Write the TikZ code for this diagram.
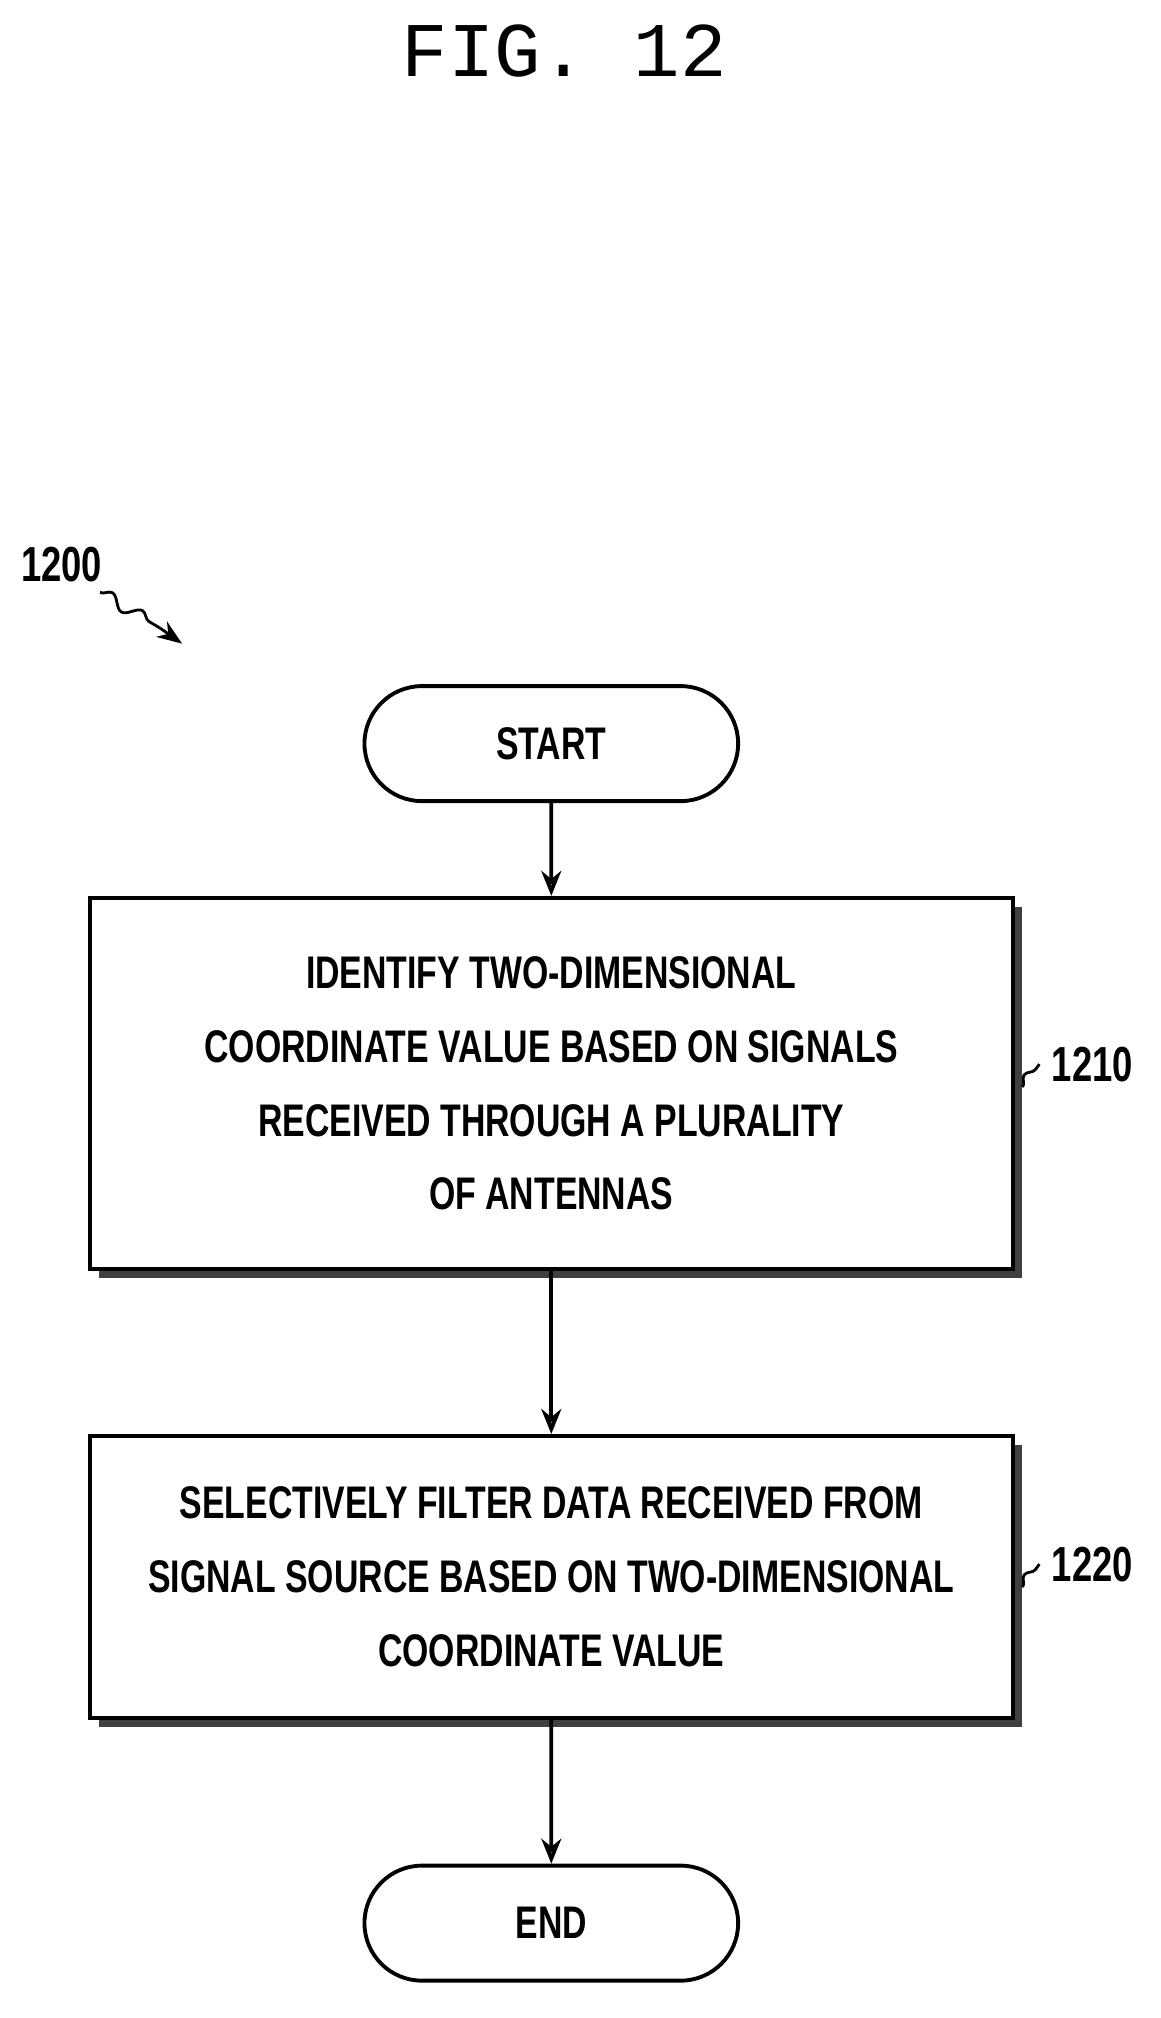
\documentclass[tikz,border=0pt]{standalone}
\usepackage{fontspec}
\setsansfont{Liberation Sans}[FakeStretch=0.74]
\setmonofont{Liberation Mono}
\usetikzlibrary{arrows.meta, positioning, shapes.misc, shadows, decorations.pathmorphing}
\tikzset{
    % common line width
    base_width/.style={line width=1.1pt},
    step_block/.style={
        rectangle,
        draw=black,
        fill=white,
        base_width,
        minimum width=92.3mm,
        align=center,
        font=\sffamily\bfseries\fontsize{13}{21}\selectfont,
        drop shadow={shadow xshift=0.9mm, shadow yshift=-0.9mm, opacity=1, fill=black!75}
    },
    terminal/.style={
        rounded rectangle,
        draw=black,
        base_width,
        minimum width=39.7mm,
        minimum height=11.5mm,
        font=\sffamily\bfseries\fontsize{13}{15}\selectfont
    },
    arrow/.style={
        -{Stealth[length=2.5mm, width=2mm, open]},
        draw=black,
        base_width
    },
    ref_label/.style={font=\sffamily\bfseries\fontsize{14}{16}\selectfont},
    ref_line/.style={
        draw=black,
        line width=0.8pt,
        decorate,
        decoration={snake, amplitude=0.6mm, segment length=3.5mm}
    }
}
\begin{document}
\begin{tikzpicture}[x=0.12818mm, y=-0.12818mm]
    \useasboundingbox (0,0) rectangle (905,1574);

    % --- TITLE ---
    \node[font=\ttfamily\fontsize{22}{24}\selectfont] (title) at (440,40) {FIG. 12};

    % --- FLOW ---
    \node[terminal] (start) at (430,580) {START};
    \node[step_block, minimum height=37.1mm] (identify) at (430,845)
        {IDENTIFY TWO-DIMENSIONAL\\COORDINATE VALUE BASED ON SIGNALS\\RECEIVED THROUGH A PLURALITY\\OF ANTENNAS};
    \node[step_block, minimum height=28.2mm] (filter) at (430,1230)
        {SELECTIVELY FILTER DATA RECEIVED FROM\\SIGNAL SOURCE BASED ON TWO-DIMENSIONAL\\COORDINATE VALUE};
    \node[terminal] (end) at (430,1500) {END};

    \draw[arrow] (start) -- (identify);
    \draw[arrow] (identify) -- (filter);
    \draw[arrow] (filter) -- (end);

    % --- REFERENCE NUMERALS ---
    \node[ref_label] (fig_ref) at (48,440) {1200};
    \coordinate (fig_tip) at (142,502);
    \draw[ref_line] (78,462) -- (125,490);
    \draw[-{Stealth[length=2.5mm]}, line width=0.8pt] (125,490) -- (fig_tip);

    \node[ref_label] (ref_identify) at (852,830) {1210};
    \draw[ref_line] (identify.east |- ref_identify) ++(6,18) -- (ref_identify.west);
    \node[ref_label] (ref_filter) at (852,1220) {1220};
    \draw[ref_line] (filter.east |- ref_filter) ++(6,18) -- (ref_filter.west);
\end{tikzpicture}
\end{document}
